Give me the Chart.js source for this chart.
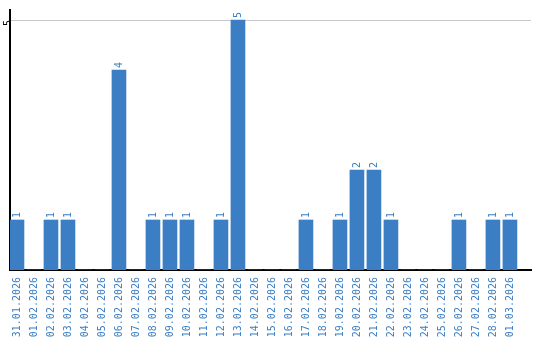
<!DOCTYPE html>
<html>
<head>
<meta charset="utf-8">
<script src="https://cdn.jsdelivr.net/npm/chart.js@4/dist/chart.umd.min.js"></script>
<style>
  html, body { margin: 0; padding: 0; background: #fff; }
  #wrap { width: 540px; height: 340px; position: relative; }
</style>
</head>
<body>
<div id="wrap"><canvas id="graph_data"></canvas></div>
<script>
var dates = [
    "31.01.2026", "01.02.2026", "02.02.2026", "03.02.2026", "04.02.2026",
    "05.02.2026", "06.02.2026", "07.02.2026", "08.02.2026", "09.02.2026",
    "10.02.2026", "11.02.2026", "12.02.2026", "13.02.2026", "14.02.2026",
    "15.02.2026", "16.02.2026", "17.02.2026", "18.02.2026", "19.02.2026",
    "20.02.2026", "21.02.2026", "22.02.2026", "23.02.2026", "24.02.2026",
    "25.02.2026", "26.02.2026", "27.02.2026", "28.02.2026", "01.03.2026"
];
var counts = [1, 0, 1, 1, 0, 0, 4, 0, 1, 1, 1, 0, 1, 5, 0, 0, 0, 1, 0, 1, 2, 2, 1, 0, 0, 0, 1, 0, 1, 1];
var yTicks = [5];

var blue = '#3b7ec3';

// draws the rotated value above each bar
var barValues = {
    id: 'barValues',
    afterDatasetsDraw: function(chart){
        var ctx = chart.ctx;
        var meta = chart.getDatasetMeta(0);
        ctx.save();
        ctx.fillStyle = blue;
        ctx.font = '10px "DejaVu Sans Mono"';
        ctx.textAlign = 'left';
        ctx.textBaseline = 'middle';
        meta.data.forEach(function(bar, i){
            if(!counts[i]) return;
            ctx.save();
            ctx.translate(bar.x, bar.y - 2);
            ctx.rotate(-Math.PI / 2);
            ctx.fillText(String(counts[i]), 0, 0);
            ctx.restore();
        });
        ctx.restore();
    }
};

function graph(){
    const data = {
        datasets: [{
            data: counts.map(function(v, i){ return {x: i, y: v}; }),
            backgroundColor: blue,
            borderWidth: 0,
            barThickness: 14
        }]
    };

    const bar = {
        type: 'bar',
        data: data,
        options: {
            responsive: true,
            maintainAspectRatio: false,
            animation: false,
            layout: { padding: { top: 10, right: 9, left: 0, bottom: 0 } },
            plugins: {
                legend: { display: false },
                tooltip: { enabled: false }
            },
            scales: {
                x: {
                    type: 'linear',
                    offset: false,
                    min: -0.41,
                    max: 30.24,
                    afterBuildTicks: function(scale){
                        scale.ticks = dates.map(function(d, i){ return {value: i}; });
                    },
                    afterFit: function(scale){ scale.height = 70; },
                    grid: { display: false, drawTicks: false },
                    border: { display: true, color: '#000', width: 2 },
                    ticks: {
                        autoSkip: false,
                        minRotation: 90,
                        maxRotation: 90,
                        padding: 7,
                        color: blue,
                        font: { family: '"DejaVu Sans Mono"', size: 10 },
                        callback: function(v){ return dates[v]; }
                    }
                },
                y: {
                    min: 0,
                    max: 5.2,
                    afterBuildTicks: function(scale){
                        scale.ticks = yTicks.map(function(v){ return {value: v}; });
                    },
                    afterFit: function(scale){ scale.width = 10; },
                    grid: { color: '#c8c8c8', lineWidth: 1, drawTicks: false },
                    border: { display: true, color: '#000', width: 2 },
                    ticks: {
                        minRotation: 90,
                        maxRotation: 90,
                        padding: 2,
                        color: '#000',
                        font: { family: '"DejaVu Sans Mono"', size: 10 }
                    }
                }
            }
        },
        plugins: [barValues]
    };

    var bars = document.getElementById('graph_data');
    chart = new Chart(bars, bar);
}

graph();
</script>
</body>
</html>
